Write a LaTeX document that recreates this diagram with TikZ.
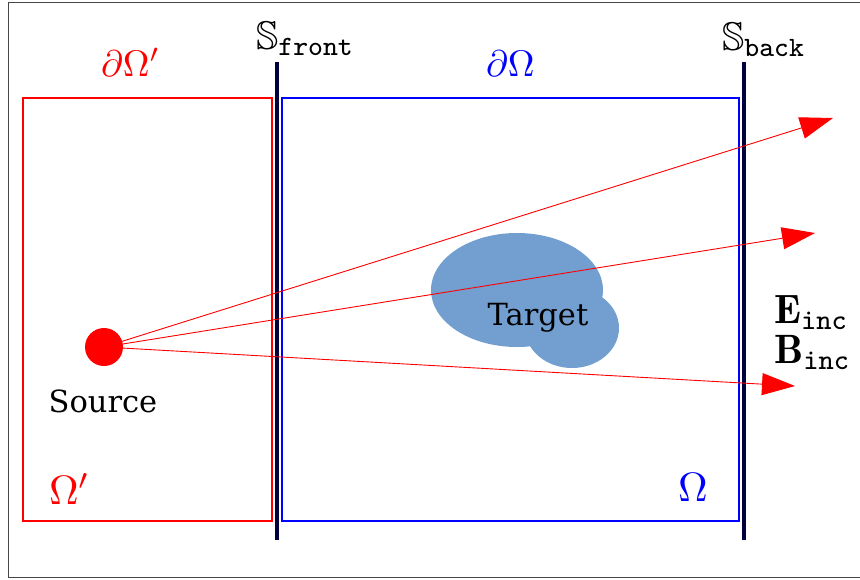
\documentclass[tikz,border=0pt]{standalone}
\usepackage{amssymb}
\usepackage{fontspec}
\newfontfamily\labelfont{DejaVu Serif}
\usetikzlibrary{arrows.meta}
\definecolor{navy}{RGB}{0,0,60}
\definecolor{blob}{RGB}{114,159,207}
\definecolor{framegray}{RGB}{70,70,70}
\tikzset{
  redbox/.style={draw=red, line width=2.4pt},
  bluebox/.style={draw=blue, line width=2.4pt},
  plane/.style={draw=navy, line width=3.6pt},
  ray/.style={draw=red, line width=0.9pt, -{Triangle[length=33pt,width=22pt]}},
  txt/.style={inner sep=0pt, font=\labelfont\fontsize{30.5}{35}\selectfont},
  mlabel/.style={inner sep=0pt, anchor=base west},
}
\begin{document}
\begin{tikzpicture}[x=1pt,y=-1pt]
\useasboundingbox (0,0) rectangle (860,579);
% outer frame (open at the right, clipped)
\draw[framegray, line width=1.4pt] (870,2.5) -- (8.5,2.5) -- (8.5,577.5) -- (870,577.5);
% domains
\draw[redbox] (23,98) rectangle (272,521);
\draw[bluebox] (282,98) rectangle (739,521);
% planes
\coordinate (ftop) at (277,62);
\coordinate (fbot) at (277,540);
\coordinate (btop) at (744,62);
\coordinate (bbot) at (744,540);
\draw[plane] (ftop) -- (fbot);
\draw[plane] (btop) -- (bbot);
% labels
\node[mlabel, text=red] (dOp) at (101,76) {\scalebox{3.7}{$\partial\Omega'$}};
\node[mlabel, text=blue] (dO) at (486,76) {\scalebox{3.7}{$\partial\Omega$}};
\node[mlabel, text=red] (Op) at (49,504) {\scalebox{4.1}{$\Omega'$}};
\node[mlabel, text=blue] (O) at (678,501) {\scalebox{4.1}{$\Omega$}};
\node[mlabel] (Sf) at (256,49) {\scalebox{4}{$\mathbb{S}_{\mathtt{front}}$}};
\node[mlabel] (Sb) at (722,50) {\scalebox{4}{$\mathbb{S}_{\mathtt{back}}$}};
% target
\fill[blob] (517,290) ellipse [x radius=86, y radius=57];
\fill[blob] (572,328) ellipse [x radius=47, y radius=40];
\node[txt] (target) at (538,318) {Target};
% rays
\coordinate (src) at (104,347);
\coordinate (t1) at (833,118);
\coordinate (t2) at (815,233);
\coordinate (t3) at (795,386);
\draw[ray] (src) -- (t1);
\draw[ray] (src) -- (t2);
\draw[ray] (src) -- (t3);
% source
\fill[red] (src) circle (19);
\node[txt] (source) at (103,401) {Source};
% incident fields
\node[mlabel] (E) at (774,323) {\scalebox{4.1}{$\mathbf{E}_{\mathtt{inc}}$}};
\node[mlabel] (B) at (774,363) {\scalebox{4.1}{$\mathbf{B}_{\mathtt{inc}}$}};
\end{tikzpicture}
\end{document}
